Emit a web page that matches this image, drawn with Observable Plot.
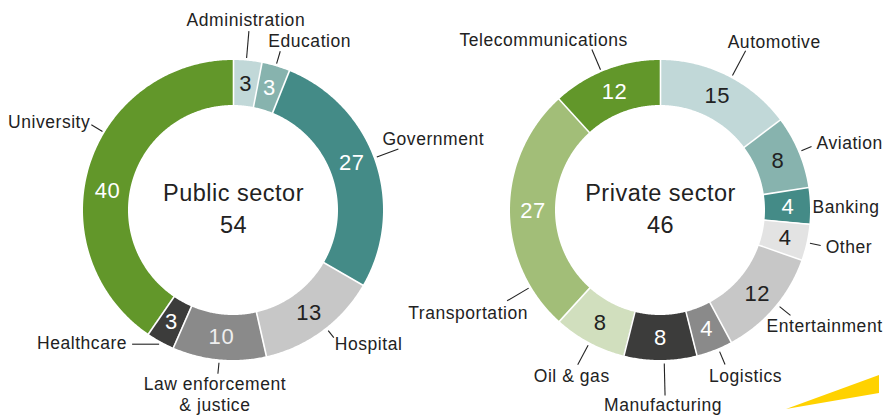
<!DOCTYPE html>
<html>
<head>
<meta charset="utf-8">
<script src="https://cdn.jsdelivr.net/npm/d3@7"></script>
<script src="https://cdn.jsdelivr.net/npm/@observablehq/plot@0.6"></script>
<style>
  html, body { margin: 0; padding: 0; background: #fff; }
  svg text.lbl { letter-spacing: 0.55px; }
  svg g.center-lbl text { letter-spacing: 0.5px; }
</style>
</head>
<body>
<div id="chart"></div>
<script>
// ---------------- DATA ----------------
const sectorNames = ["Public sector", "Private sector"];
const sectorTotals = [54, 46];

const publicCategories = ["Administration", "Education", "Government", "Hospital", "Law enforcement\n& justice", "Healthcare", "University"];
const publicValues = [3, 3, 27, 13, 10, 3, 40];

const privateCategories = ["Automotive", "Aviation", "Banking", "Other", "Entertainment", "Logistics", "Manufacturing", "Oil & gas", "Transportation", "Telecommunications"];
const privateValues = [15, 8, 4, 4, 12, 4, 8, 8, 27, 12];

// ---------------- STYLES ----------------
const publicColors = ["#c1d8d8", "#87b3ae", "#448b87", "#c7c7c7", "#8a8a8a", "#3c3c3b", "#62972a"];
const publicTextColors = ["#222", "#fff", "#fff", "#222", "#eee", "#fff", "#fff"];
const privateColors = ["#c1d8d8", "#87b3ae", "#448b87", "#e3e3e3", "#c7c7c7", "#8a8a8a", "#3c3c3b", "#d1dfbe", "#a2be78", "#62972a"];
const privateTextColors = ["#222", "#222", "#fff", "#222", "#222", "#fff", "#fff", "#222", "#fff", "#fff"];

// label layout: f = position along the segment for the leader, len = leader length (px),
// anchor / dx / dy = text placement relative to the leader end (px), nf = number position along segment
const publicLabelLayout = [
  {f: 0.45, len: 27, anchor: "middle", dx: -3, dy: -12},
  {f: 0.5, len: 13, anchor: "start", dx: -12, dy: -11},
  {f: 0.486, len: 23, anchor: "start", dx: -16, dy: -11, nf: 0.47},
  {f: 0.46, len: 9, anchor: "start", dx: 1, dy: 6},
  {f: 0.5, len: 11, anchor: "middle", dx: -3, dy: 20},
  {f: 0.5, len: 27, anchor: "end", dx: -5, dy: -2, dir: "left"},
  {f: 0.595, len: 13, anchor: "end", dx: -1, dy: -4, nf: 0.443}
];
const privateLabelLayout = [
  {f: 0.53, len: 28, anchor: "start", dx: -18, dy: -10},
  {f: 0.5, len: 11, anchor: "start", dx: 5, dy: -4},
  {f: 0.5, len: 0, anchor: "start", dx: -1, dy: 0},
  {f: 0.5, len: 11, anchor: "start", dx: 5, dy: 1},
  {f: 0.46, len: 14, anchor: "start", dx: -24, dy: 10},
  {f: 0.39, len: 14, anchor: "start", dx: -16, dy: 11},
  {f: 0.45, len: 32, anchor: "middle", dx: -2, dy: 9},
  {f: 0.5, len: 22, anchor: "middle", dx: -6, dy: 11},
  {f: 0.18, len: 25, anchor: "middle", dx: -39, dy: 11},
  {f: 0.455, len: 22, anchor: "end", dx: 36, dy: -10}
];

// ---------------- GEOMETRY ----------------
const W = 892, H = 415;
const K = 150;                 // px per unit (outer radius = 1 unit)
const R_OUT = 1, R_IN = 0.7, R_NUM = 0.85, R_LEAD = 1.02;
const centerPx = [{x: 233, y: 210}, {x: 660, y: 210}];
const toUnitsX = px => (px - centerPx[0].x) / K;
const toUnitsY = py => (centerPx[0].y - py) / K;

const sectors = [
  {name: sectorNames[0], total: sectorTotals[0], cats: publicCategories, vals: publicValues,
   colors: publicColors, textColors: publicTextColors, layout: publicLabelLayout,
   cx: toUnitsX(centerPx[0].x), cy: toUnitsY(centerPx[0].y)},
  {name: sectorNames[1], total: sectorTotals[1], cats: privateCategories, vals: privateValues,
   colors: privateColors, textColors: privateTextColors, layout: privateLabelLayout,
   cx: toUnitsX(centerPx[1].x), cy: toUnitsY(centerPx[1].y)}
];

const pt = (cx, cy, r, a) => [cx + r * Math.sin(a), cy + r * Math.cos(a)];

const areaRows = [], sepRows = [], numRows = [], leadRows = [], labelRows = [], centerRows = [];
sectors.forEach((s, si) => {
  const sum = d3.sum(s.vals);
  let acc = 0;
  centerRows.push({x: s.cx, y: s.cy + 17 / K, text: s.name});
  centerRows.push({x: s.cx, y: s.cy - 15 / K, text: String(s.total)});
  s.vals.forEach((v, i) => {
    const a0 = 2 * Math.PI * acc / sum;
    const a1 = 2 * Math.PI * (acc + v) / sum;
    acc += v;
    const n = Math.max(2, Math.ceil((a1 - a0) / (Math.PI / 360)) + 1);
    for (let j = 0; j < n; j++) {
      const a = a0 + (a1 - a0) * j / (n - 1);
      const [xi, yi] = pt(s.cx, s.cy, R_IN, a);
      const [xo, yo] = pt(s.cx, s.cy, R_OUT, a);
      areaRows.push({key: si + "-" + i, x1: xi, y1: yi, x2: xo, y2: yo, fill: s.colors[i]});
    }
    const [sx1, sy1] = pt(s.cx, s.cy, R_IN - 0.01, a0);
    const [sx2, sy2] = pt(s.cx, s.cy, R_OUT + 0.01, a0);
    sepRows.push({x1: sx1, y1: sy1, x2: sx2, y2: sy2});

    const L = s.layout[i];
    const am = a0 + (a1 - a0) * (L.nf ?? 0.5);
    const [nx, ny] = pt(s.cx, s.cy, R_NUM, am);
    numRows.push({x: nx, y: ny, text: String(v), fill: s.textColors[i]});

    const al = a0 + (a1 - a0) * L.f;
    const [lx1, ly1] = pt(s.cx, s.cy, R_LEAD, al);
    let lx2, ly2;
    if (L.dir === "left") { lx2 = lx1 - L.len / K; ly2 = ly1; }
    else { [lx2, ly2] = pt(s.cx, s.cy, R_LEAD + L.len / K, al); }
    if (L.len > 0) leadRows.push({x1: lx1, y1: ly1, x2: lx2, y2: ly2});
    labelRows.push({x: lx2 + L.dx / K, y: ly2 - L.dy / K, text: s.cats[i], anchor: L.anchor});
  });
});

// decorative yellow beam (bottom right)
const logoX = [786, 879];
const logoTop = [409, 375];
const logoBottom = [409, 393];
const logoRows = logoX.map((x, i) => ({x: toUnitsX(x), y1: toUnitsY(logoTop[i]), y2: toUnitsY(logoBottom[i])}));

const FONT = "'Liberation Sans', Arial, Helvetica, sans-serif";

const chart = Plot.plot({
  width: W,
  height: H,
  margin: 0,
  x: {domain: [toUnitsX(0), toUnitsX(W)], axis: null},
  y: {domain: [toUnitsY(H), toUnitsY(0)], axis: null},
  style: {fontFamily: FONT, background: "#fff", color: "#222"},
  marks: [
    Plot.area(areaRows, {x1: "x1", y1: "y1", x2: "x2", y2: "y2", z: "key", fill: "fill", curve: "linear"}),
    Plot.link(sepRows, {x1: "x1", y1: "y1", x2: "x2", y2: "y2", stroke: "#fff", strokeWidth: 1.6}),
    Plot.text(numRows, {x: "x", y: "y", text: "text", fill: "fill", fontSize: 22}),
    Plot.text(centerRows, {x: "x", y: "y", text: "text", fill: "#222", fontSize: 23.5, className: "center-lbl"}),
    Plot.link(leadRows, {x1: "x1", y1: "y1", x2: "x2", y2: "y2", stroke: "#222", strokeWidth: 1.1}),
    ...["start", "middle", "end"].map(a =>
      Plot.text(labelRows.filter(d => d.anchor === a), {
        x: "x", y: "y", text: "text", textAnchor: a, fill: "#222", fontSize: 17.5, lineHeight: 1.2
      })),
    Plot.areaY(logoRows, {x: "x", y1: "y1", y2: "y2", fill: "#ffd200", curve: "linear"})
  ]
});
// widen the outer labels slightly (the original uses a wider typeface)
chart.querySelectorAll("text").forEach(t => {
  if (!t.closest(".center-lbl") && t.getAttribute("font-size") !== "22") t.classList.add("lbl");
});
document.getElementById("chart").appendChild(chart);
</script>
</body>
</html>
